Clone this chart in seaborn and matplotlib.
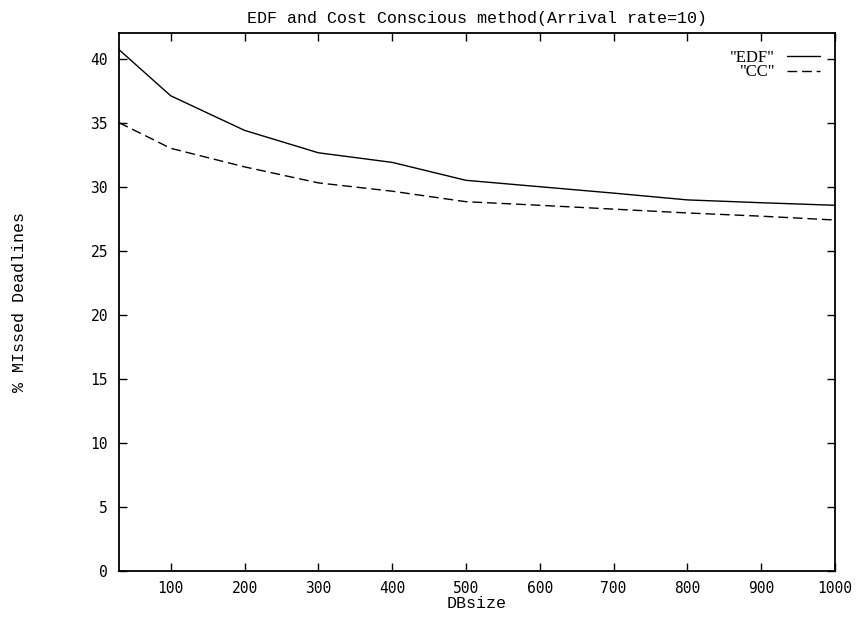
import matplotlib
matplotlib.use("Agg")
import matplotlib.pyplot as plt
import seaborn as sns
import pandas as pd

# Data
db_size = [30, 100, 200, 300, 400, 500, 600, 700, 800, 900, 1000]
edf = [40.7, 37.1, 34.4, 32.65, 31.9, 30.5, 30.0, 29.5, 28.97, 28.75, 28.55]
cc = [35.0, 33.0, 31.55, 30.3, 29.65, 28.83, 28.55, 28.25, 27.95, 27.7, 27.4]

title = "EDF and Cost Conscious method(Arrival rate=10)"
xlabel = "DBsize"
ylabel = "% MIssed Deadlines"
xticks = [100, 200, 300, 400, 500, 600, 700, 800, 900, 1000]
yticks = [0, 5, 10, 15, 20, 25, 30, 35, 40]

df = pd.DataFrame({
    "DBsize": db_size * 2,
    "value": edf + cc,
    "series": ['"EDF"'] * len(db_size) + ['"CC"'] * len(db_size),
})

sns.set_theme(style="ticks")
plt.rcParams["font.family"] = ["Liberation Mono", "DejaVu Sans Mono"]
plt.rcParams["text.color"] = "black"
plt.rcParams["axes.labelcolor"] = "black"

fig = plt.figure(figsize=(8.57, 6.17), dpi=100)
ax = fig.add_axes([0.1389, 0.0746, 0.8354, 0.8719])

sns.lineplot(data=df, x="DBsize", y="value", hue="series", style="series",
             palette={'"EDF"': "black", '"CC"': "black"},
             dashes={'"EDF"': "", '"CC"': (7, 3.5)},
             linewidth=1.0, ax=ax, legend=True)

ax.set_xlim(30, 1000)
ax.set_ylim(0, 42)
ax.set_xticks(xticks)
ax.set_yticks(yticks)
ax.tick_params(direction="in", length=6, width=1, top=True, right=True,
               labelsize=10.5, colors="black", pad=8)
ax.tick_params(axis="x", pad=7)
for lbl in ax.get_xticklabels() + ax.get_yticklabels():
    lbl.set_family("DejaVu Sans Mono")
for s in ax.spines.values():
    s.set_linewidth(1.3)
    s.set_color("black")

ax.set_title(title, fontsize=12, pad=7, color="black")
ax.set_xlabel(xlabel, fontsize=12, labelpad=0)
ax.set_ylabel(ylabel, fontsize=12, labelpad=46)

handles, labels = ax.get_legend_handles_labels()
leg = ax.legend(handles, labels, loc="upper right", frameon=False,
                bbox_to_anchor=(1.0, 0.996),
                markerfirst=False, prop={"family": "Liberation Serif", "size": 12},
                handlelength=2.0, borderaxespad=0.5, labelspacing=-0.1,
                handletextpad=0.7)
for t in leg.get_texts():
    t.set_ha("right")

fig.savefig("out.png", dpi=100)
